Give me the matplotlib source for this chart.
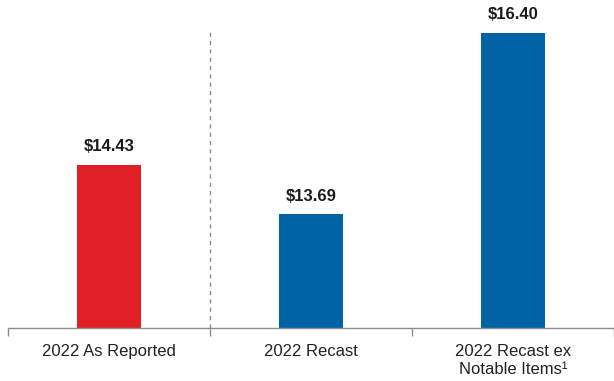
import matplotlib.pyplot as plt

categories = ["2022 As Reported", "2022 Recast", "2022 Recast ex\nNotable Items¹"]
values = [14.43, 13.69, 16.40]
colors = ["#E11F26", "#0063A5", "#0063A5"]

plt.rcParams["font.family"] = ["Liberation Sans", "DejaVu Sans"]

fig = plt.figure(figsize=(6.14, 3.81), dpi=100)
# axis runs from the first category boundary to the right edge
ax = fig.add_axes([8 / 614, 53.5 / 381, 606 / 614, 327.5 / 381])

base = 12.0
x = list(range(len(categories)))
ax.bar(x, [v - base for v in values], bottom=base, width=0.315,
       color=colors, zorder=2)

for xi, v in zip(x, values):
    ax.annotate(f"${v:.2f}", (xi, v), xytext=(0, 13), textcoords="offset points",
                ha="center", va="center", fontsize=12, fontweight="bold",
                color="#1a1a1a")

# divider between reported and recast figures
ax.plot([0.5, 0.5], [base, 16.44], linestyle=(0, (3, 3)), color="#8c8c8c",
        linewidth=1.0, zorder=1)

ax.set_xlim(-0.5, 2.485)
ax.set_ylim(base, base + 327.5 / 67)

for side in ["top", "right", "left"]:
    ax.spines[side].set_visible(False)
ax.spines["bottom"].set_color("#8c8c8c")
ax.spines["bottom"].set_linewidth(1.0)

ax.set_yticks([])
ax.set_xticks([-0.5, 0.5, 1.5, 2.5])
ax.set_xticklabels([])
ax.tick_params(axis="x", length=6, width=1.0, color="#8c8c8c")
ax.set_xticks(x, minor=True)
ax.set_xticklabels(categories, minor=True, fontsize=12, color="#222222",
                   linespacing=1.25)
ax.tick_params(axis="x", which="minor", length=0, pad=12)

fig.savefig("out.png", dpi=100)
